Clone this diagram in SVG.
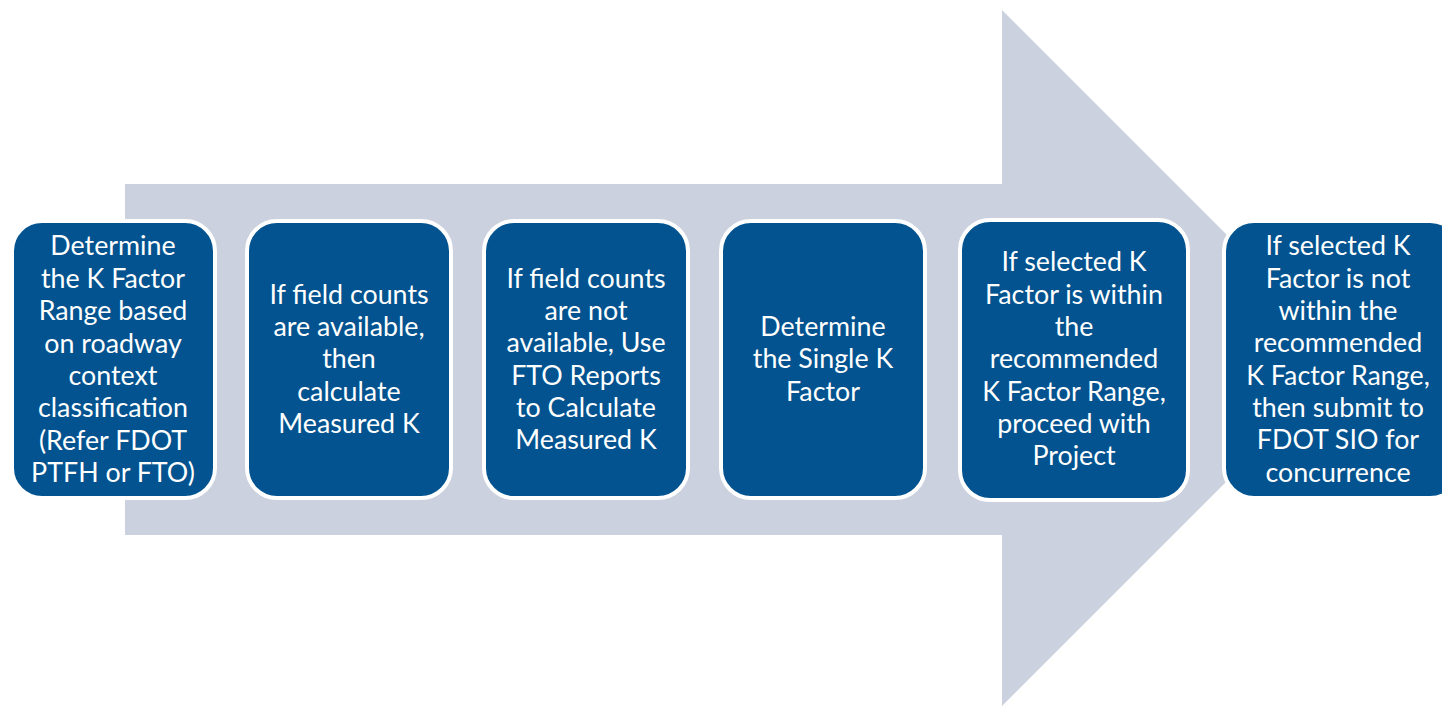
<svg xmlns="http://www.w3.org/2000/svg" width="1442" height="706" viewBox="0 0 1442 706">
<style>
.box{fill:#02538F;stroke:#FFFFFF;stroke-width:4}
.t{font-family:Lato,"Open Sans","Liberation Sans",sans-serif;font-size:26.8px;fill:#FFFFFF;text-anchor:middle}
</style>
<rect width="1442" height="706" fill="#FFFFFF"/>
<g id="connectors">
<polygon points="125,184 1002,184 1002,10 1350,358 1002,706 1002,535 125,535" fill="#CBD1DE"/>
</g>
<g id="n1">
<rect class="box" x="12" y="221" width="203" height="277" rx="30"/>
<text class="t"><tspan x="113" y="255">Determine</tspan><tspan x="113" y="288">the K Factor</tspan><tspan x="113" y="320">Range based</tspan><tspan x="113" y="353">on roadway</tspan><tspan x="113" y="385">context</tspan><tspan x="113" y="417">classification</tspan><tspan x="113" y="450">(Refer FDOT</tspan><tspan x="113" y="482">PTFH or FTO)</tspan></text>
</g>
<g id="n2">
<rect class="box" x="247" y="221" width="204" height="277" rx="30"/>
<text class="t"><tspan x="349" y="304">If field counts</tspan><tspan x="349" y="336">are available,</tspan><tspan x="349" y="368">then</tspan><tspan x="349" y="401">calculate</tspan><tspan x="349" y="433">Measured K</tspan></text>
</g>
<g id="n3">
<rect class="box" x="484" y="221" width="204" height="277" rx="30"/>
<text class="t"><tspan x="586" y="288">If field counts</tspan><tspan x="586" y="320">are not</tspan><tspan x="586" y="352">available, Use</tspan><tspan x="586" y="385">FTO Reports</tspan><tspan x="586" y="417">to Calculate</tspan><tspan x="586" y="449">Measured K</tspan></text>
</g>
<g id="n4">
<rect class="box" x="721" y="221" width="204" height="277" rx="30"/>
<text class="t"><tspan x="823" y="336">Determine</tspan><tspan x="823" y="368">the Single K</tspan><tspan x="823" y="401">Factor</tspan></text>
</g>
<g id="n5">
<rect class="box" x="960" y="220" width="228" height="280" rx="30"/>
<text class="t"><tspan x="1074" y="271">If selected K</tspan><tspan x="1074" y="304">Factor is within</tspan><tspan x="1074" y="336">the</tspan><tspan x="1074" y="368">recommended</tspan><tspan x="1074" y="401">K Factor Range,</tspan><tspan x="1074" y="433">proceed with</tspan><tspan x="1074" y="465">Project</tspan></text>
</g>
<g id="n6">
<rect class="box" x="1224" y="221" width="236" height="277" rx="30"/>
<text class="t"><tspan x="1338" y="255">If selected K</tspan><tspan x="1338" y="288">Factor is not</tspan><tspan x="1338" y="320">within the</tspan><tspan x="1338" y="352">recommended</tspan><tspan x="1338" y="385">K Factor Range,</tspan><tspan x="1338" y="417">then submit to</tspan><tspan x="1338" y="449">FDOT SIO for</tspan><tspan x="1338" y="482">concurrence</tspan></text>
</g>
</svg>
